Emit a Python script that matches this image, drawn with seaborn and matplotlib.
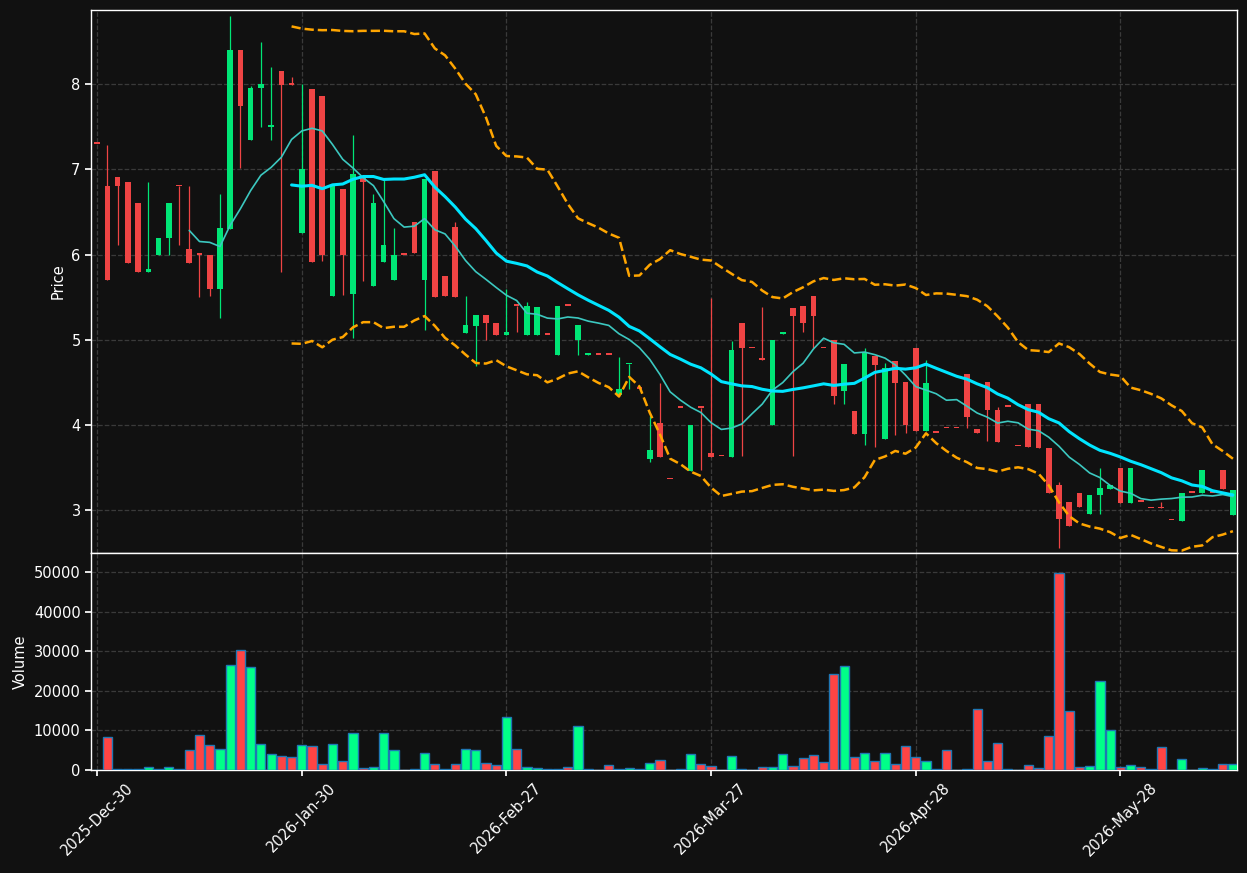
import numpy as np
import pandas as pd
import seaborn as sns
import matplotlib.pyplot as plt

# Daily OHLC + volume (one bar per trading day)
opens = [7.30, 6.80, 6.91, 6.85, 6.60, 5.80, 6.00, 6.20, 6.80, 6.06,
         6.00, 6.00, 5.60, 6.30, 8.40, 7.34, 7.96, 7.50, 8.16, 7.99,
         6.25, 7.94, 7.86, 5.51, 6.77, 5.54, 6.91, 5.63, 5.91, 5.70,
         6.00, 6.38, 5.70, 6.98, 5.75, 6.32, 5.08, 5.16, 5.29, 5.20,
         5.05, 5.40, 5.05, 5.05, 5.06, 4.82, 5.40, 5.00, 4.82, 4.82,
         4.82, 4.35, 4.71, 4.42, 3.60, 4.02, 3.36, 4.20, 3.46, 4.20,
         3.67, 3.63, 3.62, 5.20, 4.90, 4.76, 4.00, 5.07, 5.37, 5.40,
         5.51, 4.90, 5.00, 4.40, 4.16, 3.89, 4.81, 3.84, 4.75, 4.50,
         4.90, 3.93, 3.91, 3.96, 3.96, 4.60, 3.95, 4.50, 4.18, 4.21,
         3.75, 4.25, 4.25, 3.73, 3.29, 3.09, 3.20, 2.95, 3.18, 3.25,
         3.50, 3.08, 3.10, 3.02, 3.02, 2.88, 2.87, 3.20, 3.20, 3.20,
         3.47, 2.94]
highs = [7.30, 7.28, 6.91, 6.85, 6.60, 6.85, 6.20, 6.60, 6.80, 6.80,
         6.02, 6.00, 6.71, 8.80, 8.40, 7.98, 8.50, 8.20, 8.16, 8.08,
         8.00, 7.94, 7.86, 6.81, 6.77, 7.40, 6.91, 6.71, 6.88, 6.31,
         6.00, 6.38, 6.89, 6.98, 5.75, 6.38, 5.51, 5.29, 5.29, 5.20,
         5.60, 5.40, 5.44, 5.38, 5.06, 5.40, 5.40, 5.17, 4.83, 4.82,
         4.82, 4.80, 4.72, 4.42, 4.11, 4.49, 3.36, 4.20, 4.00, 4.20,
         5.49, 3.63, 4.99, 5.20, 4.90, 5.38, 5.00, 5.08, 5.37, 5.40,
         5.51, 4.90, 5.00, 4.72, 4.16, 4.90, 4.81, 4.73, 4.75, 4.50,
         4.90, 4.76, 3.91, 3.96, 3.96, 4.60, 3.95, 4.50, 4.21, 4.21,
         3.75, 4.25, 4.25, 3.73, 3.33, 3.09, 3.20, 3.18, 3.50, 3.29,
         3.50, 3.49, 3.10, 3.02, 3.10, 2.88, 3.20, 3.20, 3.47, 3.20,
         3.47, 3.24]
lows = [7.30, 5.70, 6.11, 5.90, 5.80, 5.80, 6.00, 6.00, 6.11, 5.90,
        5.50, 5.51, 5.26, 6.30, 7.02, 7.34, 7.50, 7.34, 5.80, 7.99,
        6.25, 5.91, 5.92, 5.51, 5.52, 5.02, 5.69, 5.63, 5.91, 5.70,
        6.00, 6.02, 5.12, 5.50, 5.51, 5.50, 5.08, 4.69, 5.00, 5.05,
        5.05, 5.09, 5.05, 5.05, 5.06, 4.82, 5.40, 4.82, 4.82, 4.82,
        4.82, 4.35, 4.42, 4.42, 3.56, 3.62, 3.36, 4.20, 3.46, 3.47,
        3.62, 3.63, 3.62, 3.63, 4.90, 4.76, 4.00, 5.07, 3.63, 5.09,
        4.90, 4.90, 4.25, 4.25, 3.89, 3.76, 3.74, 3.84, 3.88, 3.91,
        3.93, 3.93, 3.91, 3.96, 3.96, 3.96, 3.90, 3.81, 3.80, 4.21,
        3.75, 3.74, 3.73, 3.20, 2.55, 2.81, 3.04, 2.95, 2.96, 3.25,
        3.08, 3.08, 3.10, 3.02, 3.02, 2.88, 2.87, 3.20, 3.20, 3.20,
        3.25, 2.94]
closes = [7.30, 5.70, 6.80, 5.90, 5.80, 5.83, 6.20, 6.60, 6.80, 5.90,
          6.00, 5.60, 6.31, 8.40, 7.74, 7.96, 8.00, 7.52, 7.99, 7.99,
          7.00, 5.91, 6.00, 6.81, 6.00, 6.94, 6.85, 6.60, 6.11, 6.00,
          6.00, 6.02, 6.89, 5.50, 5.51, 5.50, 5.17, 5.29, 5.20, 5.05,
          5.09, 5.40, 5.40, 5.38, 5.06, 5.40, 5.40, 5.17, 4.83, 4.82,
          4.82, 4.42, 4.72, 4.42, 3.70, 3.62, 3.36, 4.20, 4.00, 4.20,
          3.62, 3.63, 4.88, 4.90, 4.90, 4.76, 5.00, 5.08, 5.28, 5.20,
          5.28, 4.90, 4.34, 4.72, 3.89, 4.86, 4.70, 4.67, 4.49, 4.00,
          3.93, 4.49, 3.91, 3.96, 3.96, 4.09, 3.90, 4.18, 3.80, 4.21,
          3.75, 3.74, 3.73, 3.20, 2.90, 2.81, 3.04, 3.18, 3.26, 3.29,
          3.08, 3.49, 3.10, 3.02, 3.02, 2.88, 3.20, 3.20, 3.47, 3.20,
          3.25, 3.24]
volumes = [0, 8440, 300, 300, 300, 840, 170, 675, 300, 4980,
           8780, 6245, 5230, 26500, 30300, 26000, 6500, 3970, 3460, 3200,
           6245, 5990, 1435, 6500, 2190, 9280, 590, 840, 9280, 4980,
           0, 340, 4220, 1435, 340, 1435, 5230, 4980, 1690, 1180,
           13330, 5230, 840, 420, 150, 150, 840, 11050, 150, 0,
           1180, 150, 420, 150, 1690, 2450, 0, 150, 3970, 1435,
           930, 0, 3460, 150, 0, 675, 675, 3970, 930, 2950,
           3710, 1940, 24220, 26240, 3200, 4220, 2190, 4220, 1435, 5990,
           3200, 2190, 150, 4980, 0, 150, 15360, 2190, 6750, 150,
           0, 1180, 420, 8520, 49790, 14850, 675, 930, 22450, 10040,
           840, 1180, 675, 150, 5740, 0, 2700, 0, 420, 150,
           1435, 1435]
tick_labels = ['2025-Dec-30', '2026-Jan-30', '2026-Feb-27',
               '2026-Mar-27', '2026-Apr-28', '2026-May-28']

df = pd.DataFrame({'open': opens, 'high': highs, 'low': lows,
                   'close': closes, 'volume': volumes})
df['idx'] = np.arange(len(df))
n = len(df)

# moving averages and bollinger bands on the close
df['ma10'] = df['close'].rolling(10).mean()
df['ma20'] = df['close'].rolling(20).mean()
std20 = df['close'].rolling(20).std(ddof=0)
df['bb_up'] = df['ma20'] + 2 * std20
df['bb_low'] = df['ma20'] - 2 * std20

up = df['close'] > df['open']

sns.set_theme(style='darkgrid', rc={
    'figure.facecolor': '#111111', 'axes.facecolor': '#111111',
    'axes.edgecolor': 'white', 'axes.linewidth': 1.0,
    'grid.color': '#3a3a3a', 'grid.linestyle': '--', 'grid.linewidth': 0.9,
    'text.color': 'white', 'axes.labelcolor': 'white',
    'xtick.color': 'white', 'ytick.color': 'white',
    'xtick.bottom': True, 'ytick.left': True,
    'xtick.major.size': 4, 'ytick.major.size': 4,
    'xtick.labelsize': 10.5, 'ytick.labelsize': 10.5, 'axes.labelsize': 10.5,
})
plt.rcParams['font.family'] = ['DejaVu Sans']

fig = plt.figure(figsize=(12.47, 8.73), dpi=100)
gs = fig.add_gridspec(2, 1, height_ratios=[542, 217], hspace=0,
                      left=0.073, right=0.992, top=0.9885, bottom=0.118)
ax = fig.add_subplot(gs[0])
axv = fig.add_subplot(gs[1], sharex=ax)

# candles: wick + body
candle_col = np.where(up, '#00e676', '#ef4444')
ax.vlines(df['idx'], df['low'], df['high'], colors=candle_col, linewidth=0.9, zorder=2)
body_bottom = np.minimum(df['open'], df['close'])
body_height = np.maximum((df['close'] - df['open']).abs(), 0.02)
ax.bar(df['idx'], body_height, bottom=body_bottom, width=0.55,
       color=candle_col, linewidth=0, zorder=3)

# indicator lines
sns.lineplot(data=df, x='idx', y='ma10', ax=ax, color='#3cc8c0', linewidth=1.2, zorder=4)
sns.lineplot(data=df, x='idx', y='ma20', ax=ax, color='#00e5ff', linewidth=2.2, zorder=5)
sns.lineplot(data=df, x='idx', y='bb_up', ax=ax, color='orange', linewidth=1.8,
             linestyle='--', zorder=4)
sns.lineplot(data=df, x='idx', y='bb_low', ax=ax, color='orange', linewidth=1.8,
             linestyle='--', zorder=4)

# volume
vol_col = np.where(up, '#00ff88', '#ff4444')
axv.bar(df['idx'], df['volume'], width=0.9, color=vol_col,
        edgecolor='#1f77b4', linewidth=1, zorder=3)

ax.set_ylim(2.50, 8.87)
ax.set_xlim(-0.6, n - 0.6)
axv.set_ylim(0, 55000)
ax.set_ylabel('Price')
ax.set_xlabel('')
axv.set_ylabel('Volume')
axv.set_xlabel('')
ax.tick_params(axis='x', bottom=False, labelbottom=False)

ticks = list(range(0, n, 20))
axv.set_xticks(ticks)
axv.set_xticklabels(tick_labels, rotation=45)

for a in (ax, axv):
    a.grid(True, color='#3a3a3a', linestyle='--', linewidth=0.9)
    a.set_axisbelow(True)
    for s in a.spines.values():
        s.set_color('white')
        s.set_linewidth(1.0)

plt.savefig('out.png', dpi=100, facecolor='#111111')
